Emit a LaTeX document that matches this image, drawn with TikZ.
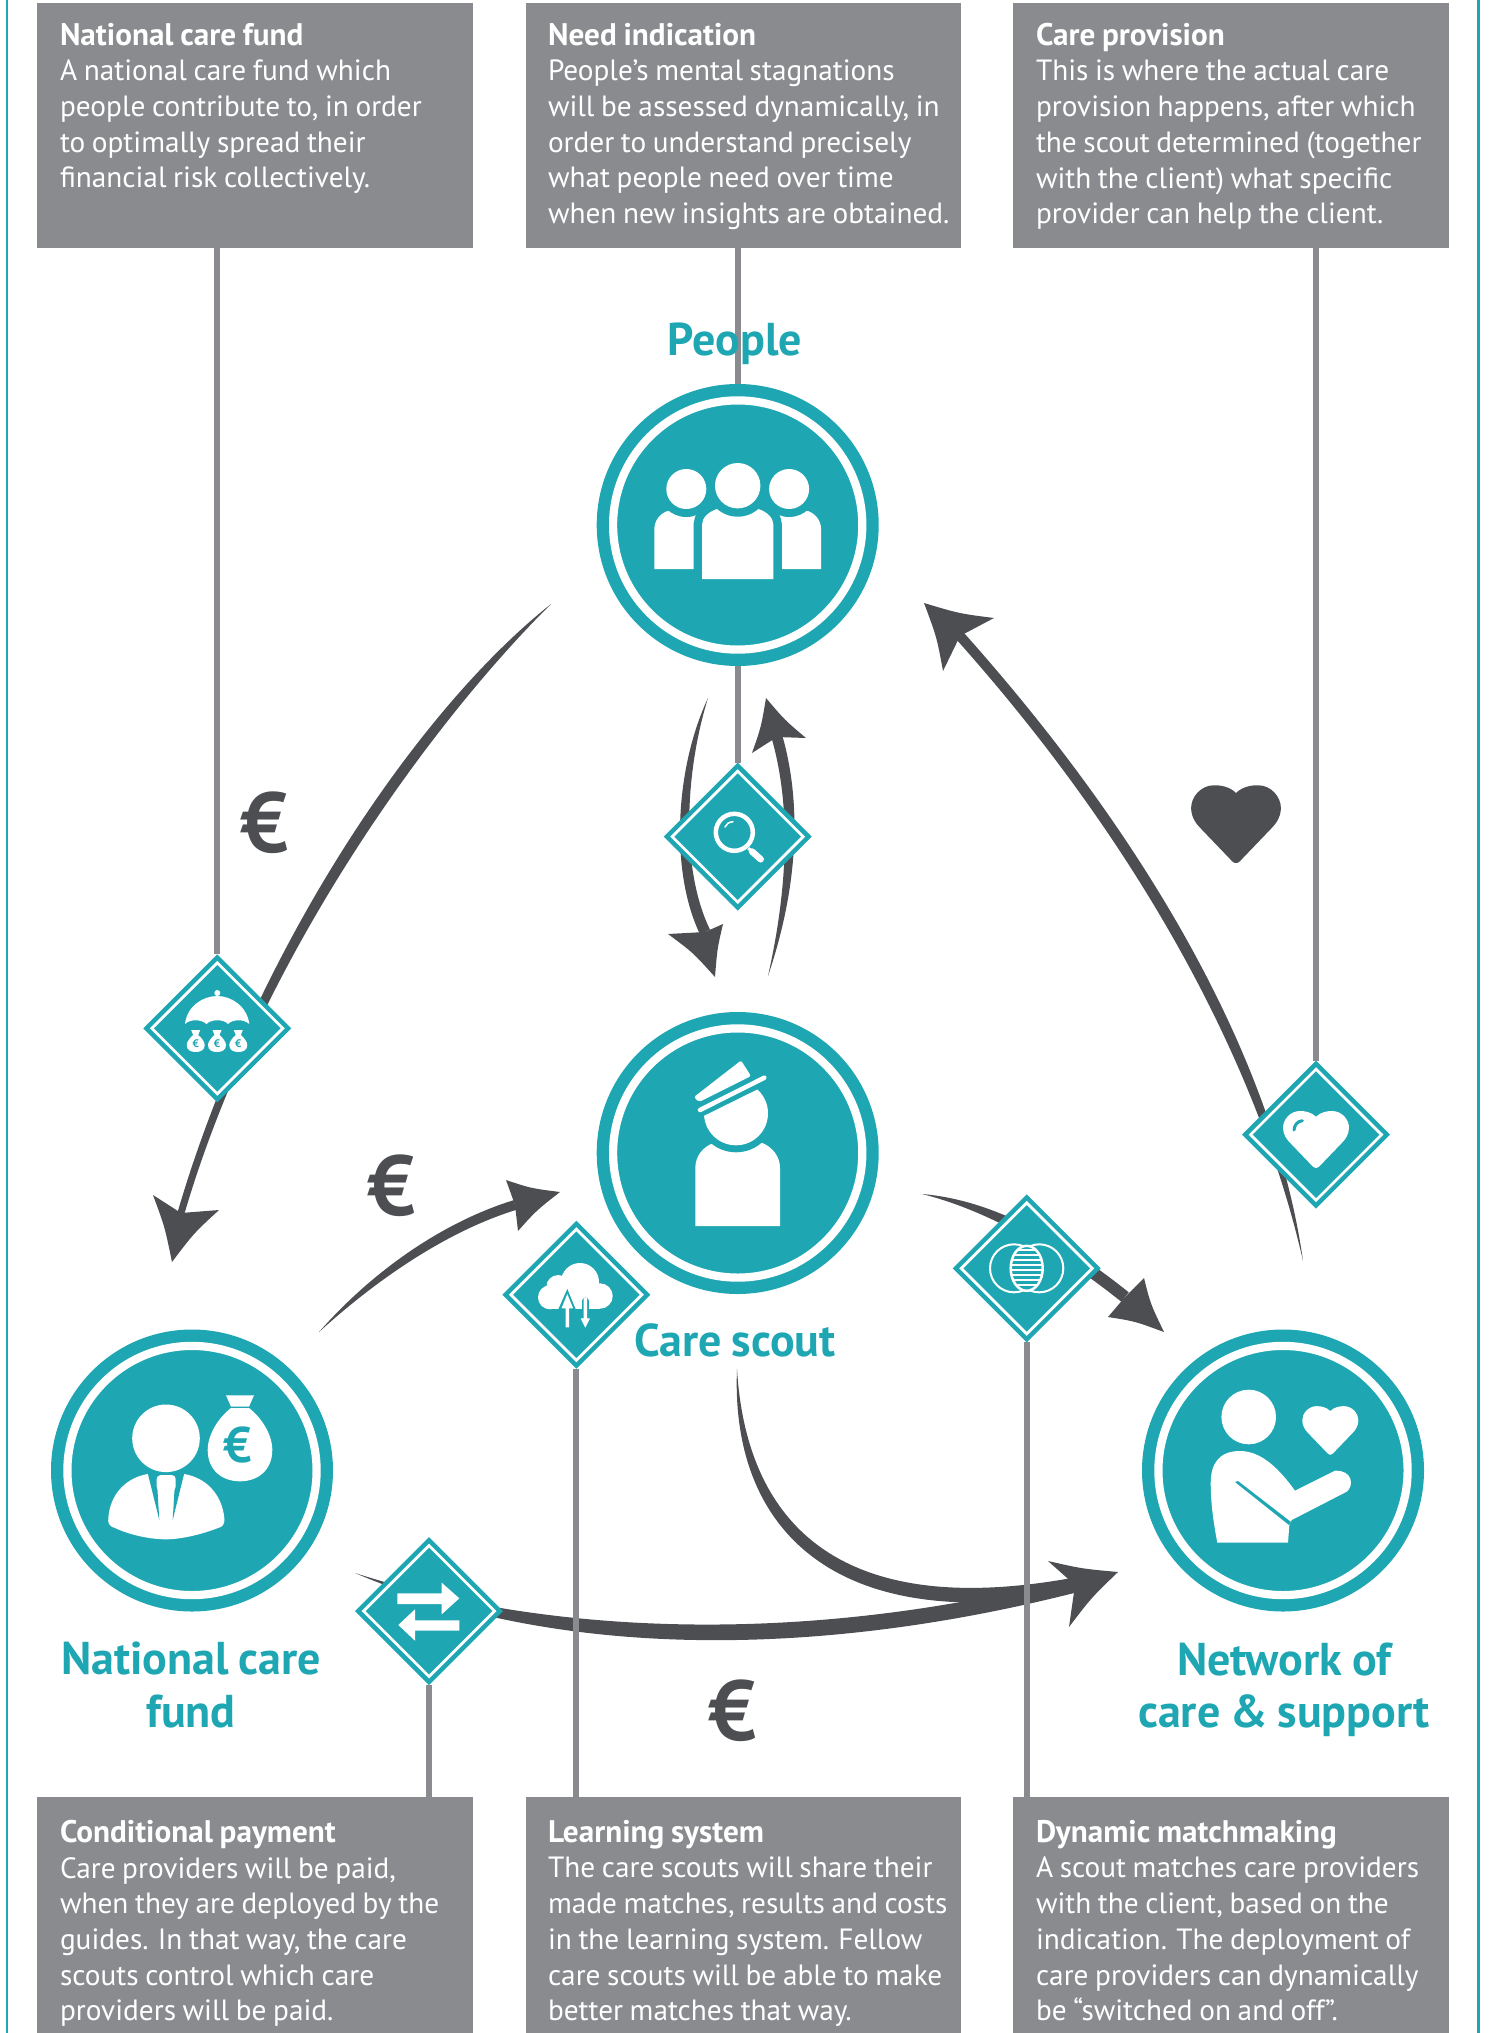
\documentclass[tikz,border=0pt]{standalone}
\usepackage{fontspec}
\setmainfont[WordSpace=0.85]{PT Sans}
\usetikzlibrary{shapes.geometric,calc,backgrounds}
\definecolor{tealc}{HTML}{1EA7B3}
\definecolor{greyc}{HTML}{898B8E}
\definecolor{darkc}{HTML}{4D4E52}
\tikzset{
  greybox/.style={rectangle,fill=greyc,inner sep=0pt,outer sep=0pt,minimum width=435.5pt},
  boxtext/.style={anchor=north west,inner sep=0pt,outer sep=0pt,text=white,align=left,font=\fontsize{29.3}{35.7}\selectfont},
  hub/.style={circle,fill=tealc,inner sep=0pt,outer sep=0pt,minimum size=282pt},
  hubring/.style={circle,draw=white,line width=8.2pt,inner sep=0pt,outer sep=0pt,minimum size=249.2pt},
  sign/.style={diamond,aspect=1,fill=tealc,inner sep=0pt,outer sep=0pt,minimum width=148pt,minimum height=148pt},
  signring/.style={diamond,aspect=1,draw=white,line width=2.8pt,inner sep=0pt,outer sep=0pt,minimum width=131pt,minimum height=131pt},
  greyline/.style={draw=greyc,line width=6pt},
  borderline/.style={draw=tealc,line width=2.5pt},
  hubtitle/.style={text=tealc,font=\fontsize{46}{52.5}\selectfont\bfseries,align=center,inner sep=0pt},
  euro/.style={text=darkc,font=\fontsize{85}{85}\selectfont\bfseries,inner sep=0pt},
  ink/.style={fill=white,draw=none},
  cut/.style={fill=tealc,draw=none},
}
\newcommand{\boxhead}[1]{{\fontsize{31.2}{35.7}\selectfont\bfseries #1}}
\newcommand{\taper}[6]{\fill[darkc] (#1) .. controls ($(#2)!#6pt!-90:(#3)$) and ($(#3)!#5pt!-90:(#4)$) .. ($(#4)!#5pt!90:(#3)$) -- ($(#4)!#5pt!-90:(#3)$) .. controls ($(#3)!#5pt!90:(#4)$) and ($(#2)!#6pt!90:(#3)$) .. cycle;}
\newcommand{\barbhead}[4]{\fill[darkc] (#1) .. controls ($(#1)!.5!(#2)!.12!(#3)$) .. (#2) -- (#3) -- (#4) .. controls ($(#1)!.5!(#4)!.12!(#3)$) .. cycle;}
\newcommand{\heartshape}[4]{\fill[#4,shift={(#1,#2)},scale=#3] (0,0) .. controls (5,-5) and (12,-5.7) .. (16,-5.7) .. controls (26,-5.7) and (33,3) .. (33,11) .. controls (33,18) and (29,23) .. (26,26) -- (3,50) .. controls (1.5,52) and (-1.5,52) .. (-3,50) -- (-26,26) .. controls (-29,23) and (-33,18) .. (-33,11) .. controls (-33,3) and (-26,-5.7) .. (-16,-5.7) .. controls (-12,-5.7) and (-5,-5) .. (0,0) -- cycle;}
\newcommand{\tinybag}[3]{\begin{scope}[shift={(#1,#2)}]
\fill[white] (-4.5,-12) -- (4.5,-12) -- (2.5,-7) -- (-2.5,-7) -- cycle;
\fill[white] (-2.5,-7) .. controls (-6,-4) and (-9,0) .. (-9,3) .. controls (-9,8) and (-5,10) .. (0,10) .. controls (5,10) and (9,8) .. (9,3) .. controls (9,0) and (6,-4) .. (2.5,-7) -- cycle;
\node[text=tealc,font=\fontsize{11}{11}\selectfont\bfseries,inner sep=0pt] (#3) at (0,2) {€};
\end{scope}}
\begin{document}
\begin{tikzpicture}[x=1pt,y=-1pt]
\useasboundingbox (0,0) rectangle (1492,2033);
% grey boxes
\node[greybox,minimum height=245pt] (bFund) at (254.8,125.5) {};
\node[greybox,minimum height=245pt] (bNeed) at (743.5,125.5) {};
\node[greybox,minimum height=245pt] (bCare) at (1231.2,125.5) {};
\node[greybox,minimum height=240pt] (bPay) at (254.8,1917) {};
\node[greybox,minimum height=240pt] (bLearn) at (743.5,1917) {};
\node[greybox,minimum height=240pt] (bMatch) at (1231.2,1917) {};
% texts
\node[boxtext] (tFund) at (60,23) {\boxhead{National care fund}\\A national care fund which\\people contribute to, in order\\to optimally spread their\\financial risk collectively.};
\node[boxtext] (tNeed) at (548,23) {\boxhead{Need indication}\\People’s mental stagnations\\will be assessed dynamically, in\\order to understand precisely\\what people need over time\\when new insights are obtained.};
\node[boxtext] (tCare) at (1036,23) {\boxhead{Care provision}\\This is where the actual care\\provision happens, after which\\the scout determined (together\\with the client) what specific\\provider can help the client.};
\node[boxtext] (tPay) at (60,1820) {\boxhead{Conditional payment}\\Care providers will be paid,\\when they are deployed by the\\guides. In that way, the care\\scouts control which care\\providers will be paid.};
\node[boxtext] (tLearn) at (548,1820) {\boxhead{Learning system}\\The care scouts will share their\\made matches, results and costs\\in the learning system. Fellow\\care scouts will be able to make\\better matches that way.};
\node[boxtext] (tMatch) at (1036,1820) {\boxhead{Dynamic matchmaking}\\A scout matches care providers\\with the client, based on the\\indication. The deployment of\\care providers can dynamically\\be “switched on and off”.};
% hubs
\node[hub] (people) at (737.7,525) {};
\node[hubring] (peopleR) at (people) {};
\node[hub] (scout) at (737.7,1153) {};
\node[hubring] (scoutR) at (scout) {};
\node[hub] (fund) at (192,1470.5) {};
\node[hubring] (fundR) at (fund) {};
\node[hub] (network) at (1283,1470.5) {};
\node[hubring] (networkR) at (network) {};
% signs
\node[sign] (dUmb) at (217.3,1028.3) {};
\node[signring] (dUmbR) at (dUmb) {};
\node[sign] (dSearch) at (737.7,836.7) {};
\node[signring] (dSearchR) at (dSearch) {};
\node[sign] (dHeart) at (1316,1134.7) {};
\node[signring] (dHeartR) at (dHeart) {};
\node[sign] (dCloud) at (576.3,1294.7) {};
\node[signring] (dCloudR) at (dCloud) {};
\node[sign] (dVenn) at (1026.7,1268.3) {};
\node[signring] (dVennR) at (dVenn) {};
\node[sign] (dSwap) at (429,1611) {};
\node[signring] (dSwapR) at (dSwap) {};
% free ends of the thick arrows
\coordinate (aTail) at (551,604); \coordinate (aEnd) at (181,1213); \coordinate (aTip) at (172,1262);
\coordinate (bTail) at (319,1332); \coordinate (bEnd) at (515,1205); \coordinate (bTip) at (560,1192);
\coordinate (cTail) at (922,1194); \coordinate (cEnd) at (1125,1297); \coordinate (cTip) at (1164,1332);
\coordinate (dTail) at (1303,1261); \coordinate (dEnd) at (960,636); \coordinate (dTip) at (924,603);
\coordinate (eTail) at (708,698); \coordinate (eEnd) at (705,932); \coordinate (eTip) at (715,977);
\coordinate (fTail) at (768,976); \coordinate (fEnd) at (777,737); \coordinate (fTip) at (766,698);
\coordinate (gTail) at (737,1369); \coordinate (hTail) at (355,1573); \coordinate (ghEnd) at (1075,1585); \coordinate (ghTip) at (1118,1572);
\begin{scope}[on background layer]
\draw[borderline] (7,0) -- (7,2033);
\draw[borderline] (1478.5,0) -- (1478.5,2033);
\taper{aTail}{420,720}{255,960}{aEnd}{3.5}{10}
\barbhead{aTip}{153,1195}{aEnd}{219,1210}
\taper{bTail}{380,1270}{450,1225}{bEnd}{5}{5}
\barbhead{bTip}{518,1231}{bEnd}{506,1180}
\taper{cTail}{990,1205}{1060,1245}{cEnd}{6}{6}
\barbhead{cTip}{1108,1317}{cEnd}{1144,1278}
\taper{dTail}{1270,1080}{1160,860}{dEnd}{5}{8}
\barbhead{dTip}{943,671}{dEnd}{994,618}
\taper{eTail}{680,770}{675,870}{eEnd}{5.5}{5.5}
\barbhead{eTip}{668,934}{eEnd}{723,924}
\taper{fTail}{795,880}{795,800}{fEnd}{5.5}{5.5}
\barbhead{fTip}{752,753}{fEnd}{806,738}
\taper{gTail}{738,1520}{830,1630}{ghEnd}{7.5}{10}
\taper{hTail}{560,1650}{820,1650}{ghEnd}{7.5}{11}
\barbhead{ghTip}{1048,1561}{ghEnd}{1069,1627}
\draw[greyline] (bFund.south -| dUmb) -- (dUmb);
\draw[greyline] (bNeed.south -| people) -- (people);
\draw[greyline] (people) -- (dSearch);
\draw[greyline] (bCare.south -| dHeart) -- (dHeart);
\draw[greyline] (dSwap) -- (dSwap |- bPay.north);
\draw[greyline] (dCloud) -- (dCloud |- bLearn.north);
\draw[greyline] (dVenn) -- (dVenn |- bMatch.north);
\end{scope}
% titles
\node[hubtitle] (lPeople) at (735,344) {People};
\node[hubtitle] (lScout) at (735,1340) {Care scout};
\node[hubtitle] (lFund) at (191,1685) {National care\\fund};
\node[hubtitle] (lNetwork) at (1284,1690) {Network of\\care \& support};
\node[euro] (e1) at (265,823) {€};
\node[euro] (e2) at (392,1186) {€};
\node[euro] (e3) at (733,1711) {€};
\heartshape{1236}{793}{1.36}{darkc}
% people icon
\fill[ink] (654.3,569) -- (654.3,530) .. controls (654.3,520) and (660,514) .. (667.3,511) -- (700,511) -- (700,569) -- cycle;
\fill[ink] (821.1,569) -- (821.1,530) .. controls (821.1,520) and (815.4,514) .. (808.1,511) -- (775,511) -- (775,569) -- cycle;
\fill[cut] (686.3,489) circle (28);
\fill[cut] (789.1,489) circle (28);
\filldraw[ink,draw=tealc,line width=17pt] (702,579) -- (702,525) .. controls (702,518) and (708,512) .. (717,509) -- (758.4,509) .. controls (767.4,512) and (773.4,518) .. (773.4,525) -- (773.4,579) -- cycle;
\fill[ink] (702,579) -- (702,525) .. controls (702,518) and (708,512) .. (717,509) -- (758.4,509) .. controls (767.4,512) and (773.4,518) .. (773.4,525) -- (773.4,579) -- cycle;
\fill[cut] (737.7,485.7) circle (31);
\fill[ink] (737.7,485.7) circle (22.7);
\fill[ink] (686.3,489) circle (20);
\fill[ink] (789.1,489) circle (20);
% scout icon
\fill[ink] (695.3,1226) -- (695.3,1168) .. controls (695.3,1156) and (703,1147) .. (713.3,1143) -- (762.3,1143) .. controls (772,1147) and (780,1156) .. (780,1168) -- (780,1226) -- cycle;
\fill[cut] (736,1113.3) circle (39);
\begin{scope}
\clip (680,1127.7) -- (782,1077.3) -- (800,1180) -- (680,1180) -- cycle;
\fill[ink] (736,1113.3) circle (32);
\end{scope}
\draw[white,line width=4.5pt,line cap=round] (700,1110) -- (764.3,1077.7);
\fill[ink,rounded corners=2pt] (694,1097) -- (741,1060.5) -- (751,1076) -- (699,1102) -- cycle;
% fund icon
\fill[ink] (108.3,1518) .. controls (110,1495) and (125,1478) .. (147.7,1474) -- (184.3,1474) .. controls (207,1478) and (222,1495) .. (224.3,1518) .. controls (225,1525) and (222,1527) .. (218,1528) .. controls (200,1535) and (180,1539.3) .. (166,1539.3) .. controls (150,1539.3) and (130,1535) .. (115,1528) .. controls (108,1526) and (108,1522) .. (108.3,1518) -- cycle;
\fill[cut] (147.7,1473) -- (184.3,1473) -- (172.7,1520) -- (174.7,1487) -- (157.3,1487) -- (159.3,1520) -- cycle;
\fill[ink,rounded corners=4pt] (156.7,1475) rectangle (175.7,1490.7);
\fill[ink] (166,1438.3) circle (33.8);
\fill[ink] (226,1395.3) -- (254,1395.3) -- (249,1406.7) -- (231,1406.7) -- cycle;
\fill[ink] (231,1408) .. controls (218,1418) and (207.7,1435) .. (207.7,1450) .. controls (207.7,1470) and (222,1481.3) .. (240,1481.3) .. controls (258,1481.3) and (272.3,1470) .. (272.3,1450) .. controls (272.3,1435) and (262,1418) .. (249,1408) -- cycle;
\node[text=tealc,font=\fontsize{50}{50}\selectfont\bfseries,inner sep=0pt] (eBag) at (238,1445) {€};
% network icon
\fill[ink] (1248.7,1417) circle (27.3);
\heartshape{1330.3}{1411}{.85}{white}
\fill[ink] (1217.3,1542.7) -- (1288,1542.7) -- (1289.3,1525) -- (1291.7,1520) -- (1346.7,1491.7) .. controls (1354,1486) and (1353,1470) .. (1335,1470.7) -- (1295,1490.7) .. controls (1280,1470) and (1262,1451) .. (1240,1451) .. controls (1218,1451) and (1210.7,1465) .. (1210.7,1483) .. controls (1210.7,1505) and (1214,1525) .. (1217.3,1542.7) -- cycle;
\fill[cut] (1235,1482) -- (1238,1481) -- (1291,1522) -- (1289,1525) -- cycle;
% search icon
\draw[white,line width=4.5pt] (734.3,832.3) circle (18.5);
\draw[white,line width=3pt] (748.3,848.3) -- (752,851.5);
\draw[white,line width=6.5pt,line cap=round] (752,851.5) -- (760.7,859.3);
\draw[white,line width=1.5pt,line cap=round] (725,827) .. controls (726,824) and (729,822) .. (733,821.7);
% umbrella icon
\fill[ink] (217.3,993) circle (3);
\fill[ink] (185,1024) .. controls (187,1006) and (203,996) .. (217.3,996) .. controls (231,996) and (247,1006) .. (249.3,1024) .. controls (244,1019) and (233,1019) .. (228,1024) .. controls (224,1019) and (211,1019) .. (206.5,1024) .. controls (201,1019) and (190,1019) .. (185,1024) -- cycle;
\tinybag{195.7}{1042}{bag1}
\tinybag{217}{1042}{bag2}
\tinybag{238.3}{1042}{bag3}
% heart icon
\heartshape{1316}{1116.7}{1}{white}
\draw[tealc,line width=3pt,line cap=round] (1294,1130) .. controls (1294.2,1125) and (1297.7,1121) .. (1302.4,1120.7);
% cloud icon
\fill[ink] (580,1282) circle (19);
\fill[ink] (558.3,1287) circle (12);
\fill[ink] (550,1297.3) circle (12);
\fill[ink] (600,1296) circle (12.7);
\fill[ink] (550,1287) rectangle (600,1309);
\draw[tealc,line width=7pt] (567.3,1298) -- (567.3,1327);
\draw[tealc,line width=7pt,line cap=round] (585.3,1301) -- (585.3,1327);
\fill[cut] (567.3,1289) -- (576,1310) -- (558,1310) -- cycle;
\fill[ink] (567.3,1294) -- (573.1,1308.3) -- (569,1308.3) -- (569,1327.3) -- (565.6,1327.3) -- (565.6,1308.3) -- (561.5,1308.3) -- cycle;
\fill[ink] (583.5,1298) -- (587.1,1298) -- (587.1,1318.3) -- (590,1318.3) -- (585.3,1327.7) -- (580.6,1318.3) -- (583.5,1318.3) -- cycle;
% venn icon
\draw[white,line width=2pt] (1014,1268.3) circle (24);
\draw[white,line width=2pt] (1039.3,1268.3) circle (24);
\filldraw[fill=tealc,draw=white,line width=2.5pt] (1026.7,1268.3) ellipse (16 and 22.5);
\begin{scope}
\clip (1026.7,1268.3) ellipse (16 and 22.5);
\foreach \yy in {1250,1255,1260,1265,1270,1275,1280,1285} \draw[white,line width=1.6pt] (1005,\yy) -- (1050,\yy);
\end{scope}
% swap icon
\fill[ink] (397.3,1593.3) -- (441.7,1593.3) -- (441.7,1582.7) -- (459.3,1598.3) -- (441.7,1614.3) -- (441.7,1604) -- (397.3,1604) -- cycle;
\fill[ink] (459.3,1620.3) -- (415,1620.3) -- (415,1609.3) -- (398.3,1625) -- (415,1640.7) -- (415,1630.7) -- (459.3,1630.7) -- cycle;
\end{tikzpicture}
\end{document}
